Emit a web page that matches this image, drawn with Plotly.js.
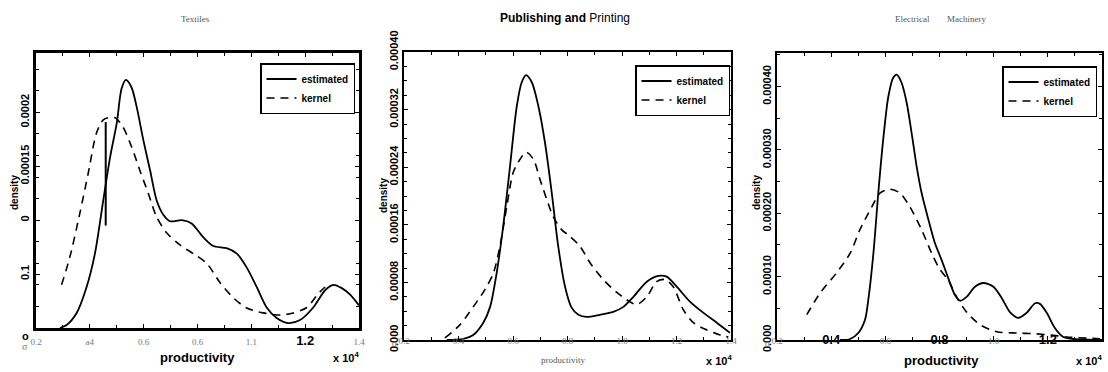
<!DOCTYPE html>
<html>
<head>
<meta charset="utf-8">
<script src="https://cdn.plot.ly/plotly-3.0.1.min.js"></script>
<style>html,body{margin:0;padding:0;background:#fff;}#chart{width:1108px;height:372px;}</style>
</head>
<body>
<div id="chart"></div>
<script>
// ---------------- data (productivity in units, density) ----------------
const panelTitles = ["Textiles", "Publishing and Printing", "Electrical      Machinery"];
const seriesNames = ["estimated", "kernel"];

// Textiles
const tex_est_x = [2890,3140,3510,3880,4190,4500,4750,5000,5180,5340,5550,5740,5990,6240,6480,6730,6980,7410,7780,8220,8590,9080,9460,9830,10200,10570,10940,11370,11810,12300,12740,13050,13360,13670,14000];
const tex_est_y = [0,2.8e-6,1.39e-5,3.8e-5,6.9e-5,1.185e-4,1.58e-4,1.90e-4,2.22e-4,2.30e-4,2.23e-4,2.05e-4,1.74e-4,1.46e-4,1.185e-4,1.05e-4,9.9e-5,1.0e-4,9.7e-5,8.4e-5,7.6e-5,7.4e-5,6.9e-5,5.6e-5,3.8e-5,1.9e-5,9.3e-6,4.6e-6,7.4e-6,1.9e-5,3.5e-5,4.0e-5,3.7e-5,3.1e-5,2.1e-5];
const tex_ker_x = [2950,3260,3630,3940,4250,4500,4690,4940,5240,5550,5860,6170,6480,6860,7350,7840,8340,8840,9330,9830,10440,11060,11560,12060,12490,12740];
const tex_ker_y = [4.0e-5,6.6e-5,1.065e-4,1.435e-4,1.81e-4,1.93e-4,1.95e-4,1.95e-4,1.86e-4,1.68e-4,1.46e-4,1.25e-4,1.03e-4,8.8e-5,7.7e-5,6.9e-5,6.0e-5,4.2e-5,2.8e-5,1.85e-5,1.4e-5,1.2e-5,1.4e-5,1.9e-5,3.2e-5,3.8e-5];
const tex_mark_x = [4590,4590];
const tex_mark_y = [9.5e-5,1.91e-4];

// Publishing and Printing
const pub_est_x = [3570,4180,4540,4910,5160,5400,5640,5890,6140,6320,6480,6690,6930,7170,7420,7660,7910,8150,8400,8700,9190,9680,10050,10420,10910,11330,11640,12010,12500,12980,13480,13960];
const pub_est_y = [0,1.4e-6,7e-6,2.4e-5,4.6e-5,9.3e-5,1.58e-4,2.41e-4,3.25e-4,3.58e-4,3.68e-4,3.58e-4,3.25e-4,2.75e-4,2.05e-4,1.30e-4,7.4e-5,4.5e-5,3.5e-5,3.2e-5,3.5e-5,3.9e-5,4.6e-5,6.0e-5,8.1e-5,8.9e-5,8.8e-5,7.4e-5,5.3e-5,3.8e-5,2.4e-5,1.0e-5];
const pub_ker_x = [3500,4050,4540,4970,5280,5520,5770,6010,6260,6480,6750,6990,7240,7480,7790,8090,8460,8830,9310,9810,10290,10540,10910,11270,11580,11880,12250,12620,13110,13600,13900];
const pub_ker_y = [2.8e-6,2.1e-5,4.6e-5,7.0e-5,9.3e-5,1.30e-4,1.85e-4,2.33e-4,2.51e-4,2.61e-4,2.51e-4,2.23e-4,1.95e-4,1.71e-4,1.53e-4,1.44e-4,1.30e-4,1.07e-4,8.4e-5,6.6e-5,5.3e-5,4.9e-5,6.0e-5,8.1e-5,8.4e-5,7.4e-5,4.2e-5,2.4e-5,1.4e-5,7e-6,4e-6];

// Electrical Machinery
const ele_est_x = [4330,4700,5000,5250,5370,5560,5740,5920,6110,6290,6420,6600,6790,6970,7160,7340,7590,7830,8080,8320,8570,8760,9000,9310,9620,9990,10300,10600,10910,11220,11530,11710,11960,12260,12570,12940,14000];
const ele_est_y = [0,1.6e-6,1.1e-5,3.2e-5,6.3e-5,1.37e-4,2.32e-4,3.16e-4,3.84e-4,4.14e-4,4.19e-4,4.06e-4,3.74e-4,3.27e-4,2.73e-4,2.32e-4,1.90e-4,1.53e-4,1.26e-4,9.8e-5,7.1e-5,6.2e-5,6.8e-5,8.4e-5,9.0e-5,8.4e-5,6.6e-5,4.4e-5,3.5e-5,4.3e-5,5.8e-5,5.7e-5,4.3e-5,1.9e-5,4.7e-6,1.6e-6,0];
const ele_ker_x = [3100,3590,4200,4700,5060,5500,5800,6170,6540,6910,7340,7710,8020,8320,8630,9000,9500,10110,10850,11460,12080,12700,13440,13990];
const ele_ker_y = [4.0e-5,7.4e-5,1.06e-4,1.37e-4,1.74e-4,2.10e-4,2.32e-4,2.38e-4,2.32e-4,2.10e-4,1.74e-4,1.37e-4,1.11e-4,9.5e-5,6.8e-5,4.4e-5,2.4e-5,1.3e-5,1.1e-5,1.0e-5,8e-6,4.7e-6,3e-6,1.6e-6];

// tick values / labels
const xTickVals = [2000,4000,6000,8000,10000,12000,14000];
const tex_xTickText = ["0.2","a4","0.6","0.6","1.1","1.2","1.4"];
const pub_xTickText = ["0.2","0.4","0.6","0.8","1.0","1.2","1.4"];
const ele_xTickText = ["0.2","0.4","0.6","0.8","1.0","1.2","1.4"];
const tex_yTickVals = [0.00005,0.0001,0.00015,0.0002];
const tex_yTickText = ["0.1","0","0.00015","0.0002"];
const pub_yTickVals = [0,0.00008,0.00016,0.00024,0.00032,0.0004];
const pub_yTickText = ["0.000","0.00008","0.00016","0.00024","0.00032","0.00040"];
const ele_yTickVals = [0,0.0001,0.0002,0.0003,0.0004];
const ele_yTickText = ["0.000","0.00010","0.00020","0.00030","0.00040"];

// ---------------- layout helpers ----------------
const W = 1108, H = 372;
const PX = v => v / W;
const PY = v => 1 - v / H;
const SANS = "Liberation Sans Narrow, Liberation Sans, Arial, sans-serif";
const SANSW = "Liberation Sans, Arial, sans-serif";
const SERIF = "Liberation Serif, DejaVu Serif, serif";

function bigTick(t){ return '<span style="font-size:13px;color:#000;font-weight:bold;font-family:Liberation Sans Narrow, Liberation Sans, sans-serif">' + t + '</span>'; }

const texXT = tex_xTickText.map((t,i)=> i===5 ? bigTick(t) : t);
const eleXT = ele_xTickText.map((t,i)=> (i===1||i===3||i===5) ? bigTick(t) : t);

const solid = {color:'#000', width:1.8, shape:'spline', smoothing:0.8};
const dashed = {color:'#000', width:1.6, dash:'8px,6px', shape:'spline', smoothing:0.8};

const traces = [
  {x:tex_est_x, y:tex_est_y, xaxis:'x', yaxis:'y', name:seriesNames[0], mode:'lines', line:solid, legend:'legend'},
  {x:tex_ker_x, y:tex_ker_y, xaxis:'x', yaxis:'y', name:seriesNames[1], mode:'lines', line:dashed, legend:'legend'},
  {x:tex_mark_x, y:tex_mark_y, xaxis:'x', yaxis:'y', mode:'lines', line:{color:'#000', width:2}, showlegend:false},
  {x:pub_est_x, y:pub_est_y, xaxis:'x2', yaxis:'y2', name:seriesNames[0], mode:'lines', line:solid, legend:'legend2'},
  {x:pub_ker_x, y:pub_ker_y, xaxis:'x2', yaxis:'y2', name:seriesNames[1], mode:'lines', line:dashed, legend:'legend2'},
  {x:ele_est_x, y:ele_est_y, xaxis:'x3', yaxis:'y3', name:seriesNames[0], mode:'lines', line:solid, legend:'legend3'},
  {x:ele_ker_x, y:ele_ker_y, xaxis:'x3', yaxis:'y3', name:seriesNames[1], mode:'lines', line:dashed, legend:'legend3'}
];

function xAxis(domain, ticktext, lw, standoff, anchor){
  return {domain:domain, range:[2000,14000], tickmode:'array', tickvals:xTickVals, ticktext:ticktext,
    ticks:'inside', ticklen:4, tickwidth:1, tickcolor:'#000', showline:true, linewidth:lw, linecolor:'#000',
    mirror:'ticks', showgrid:false, zeroline:false, anchor:anchor, ticklabelstandoff:standoff,
    minor:{dtick:1000, ticks:'inside', ticklen:3, tickcolor:'#000', showgrid:false},
    tickfont:{family:SERIF, size:9, color:'#777'}};
}
function yAxis(domain, range, vals, text, lw, minorDt, anchor){
  return {domain:domain, range:range, tickmode:'array', tickvals:vals, ticktext:text, tickangle:-90,
    ticks:'inside', ticklen:4, tickwidth:1, tickcolor:'#000', showline:true, linewidth:lw, linecolor:'#000',
    mirror:'ticks', showgrid:false, zeroline:false, anchor:anchor,
    minor:{dtick:minorDt, ticks:'inside', ticklen:3, tickcolor:'#000', showgrid:false},
    tickfont:{family:SANSW, size:11, color:'#000', weight:'bold'}};
}

function legendAt(right, top){
  return {x:PX(right), y:PY(top), xanchor:'right', yanchor:'top', bgcolor:'#fff', bordercolor:'#000', borderwidth:1.5,
    font:{family:SANS, size:10, color:'#000', weight:'bold'}, itemwidth:30, tracegroupgap:0};
}

const ann = [];
function text(t, x, y, font, extra){ ann.push(Object.assign({text:t, x:PX(x), y:PY(y), xref:'paper', yref:'paper', showarrow:false, xanchor:'center', yanchor:'middle', font:font}, extra||{})); }

// titles
text(panelTitles[0], 195, 19, {family:SERIF, size:9, color:'#555'});
text('<b>Publishing and</b> Printing', 565, 18, {family:SANS, size:12, color:'#000'});
text('Electrical', 912, 19, {family:SERIF, size:9, color:'#555'});
text('Machinery', 966, 19, {family:SERIF, size:9, color:'#555'});
// y titles
text('density', 14, 192, {family:SANSW, size:10, color:'#000', weight:'bold'}, {textangle:-90});
text('density', 383, 196, {family:SANSW, size:10, color:'#000', weight:'bold'}, {textangle:-90});
text('density', 756, 193, {family:SANSW, size:10, color:'#000', weight:'bold'}, {textangle:-90});
// x titles
text('productivity', 197, 357, {family:SANS, size:13, color:'#000', weight:'bold'});
text('productivity', 563, 360, {family:SERIF, size:9, color:'#555'});
text('productivity', 941, 360, {family:SANS, size:13, color:'#000', weight:'bold'});
// multipliers
text('x 10<sup>4</sup>', 346, 357, {family:SANS, size:11, color:'#000', weight:'bold'});
text('x 10<sup>4</sup>', 719, 360, {family:SANS, size:11, color:'#000', weight:'bold'});
text('x 10<sup>4</sup>', 1089, 360, {family:SANS, size:11, color:'#000', weight:'bold'});
// corner zeros
text('o', 25, 336, {family:SANSW, size:11, color:'#000', weight:'bold'});
text('σ', 25, 346, {family:SERIF, size:10, color:'#777'});
text('0', 394, 344, {family:SERIF, size:9, color:'#777'});
text('0', 767, 344, {family:SERIF, size:9, color:'#777'});

const layout = {
  width:W, height:H, margin:{l:0, r:0, t:0, b:0}, paper_bgcolor:'#fff', plot_bgcolor:'#fff', showlegend:true,
  xaxis: xAxis([PX(36), PX(359)], texXT, 3, 3, 'y'),
  yaxis: yAxis([PY(328), PY(53)], [0, 0.000255], tex_yTickVals, tex_yTickText, 3, 0.00002, 'x'),
  xaxis2: xAxis([PX(404), PX(731)], pub_xTickText, 2, -9, 'y2'),
  yaxis2: yAxis([PY(340), PY(52)], [0, 0.0004], pub_yTickVals, pub_yTickText, 2, 0.00002, 'x2'),
  xaxis3: xAxis([PX(777), PX(1102)], eleXT, 2, -9, 'y3'),
  yaxis3: yAxis([PY(340), PY(53)], [0, 0.000453], ele_yTickVals, ele_yTickText, 2, 0.00005, 'x3'),
  legend: legendAt(355, 63),
  legend2: legendAt(730, 65),
  legend3: legendAt(1097, 66),
  annotations: ann
};

Plotly.newPlot('chart', traces, layout, {staticPlot:true, displayModeBar:false});
</script>
</body>
</html>
